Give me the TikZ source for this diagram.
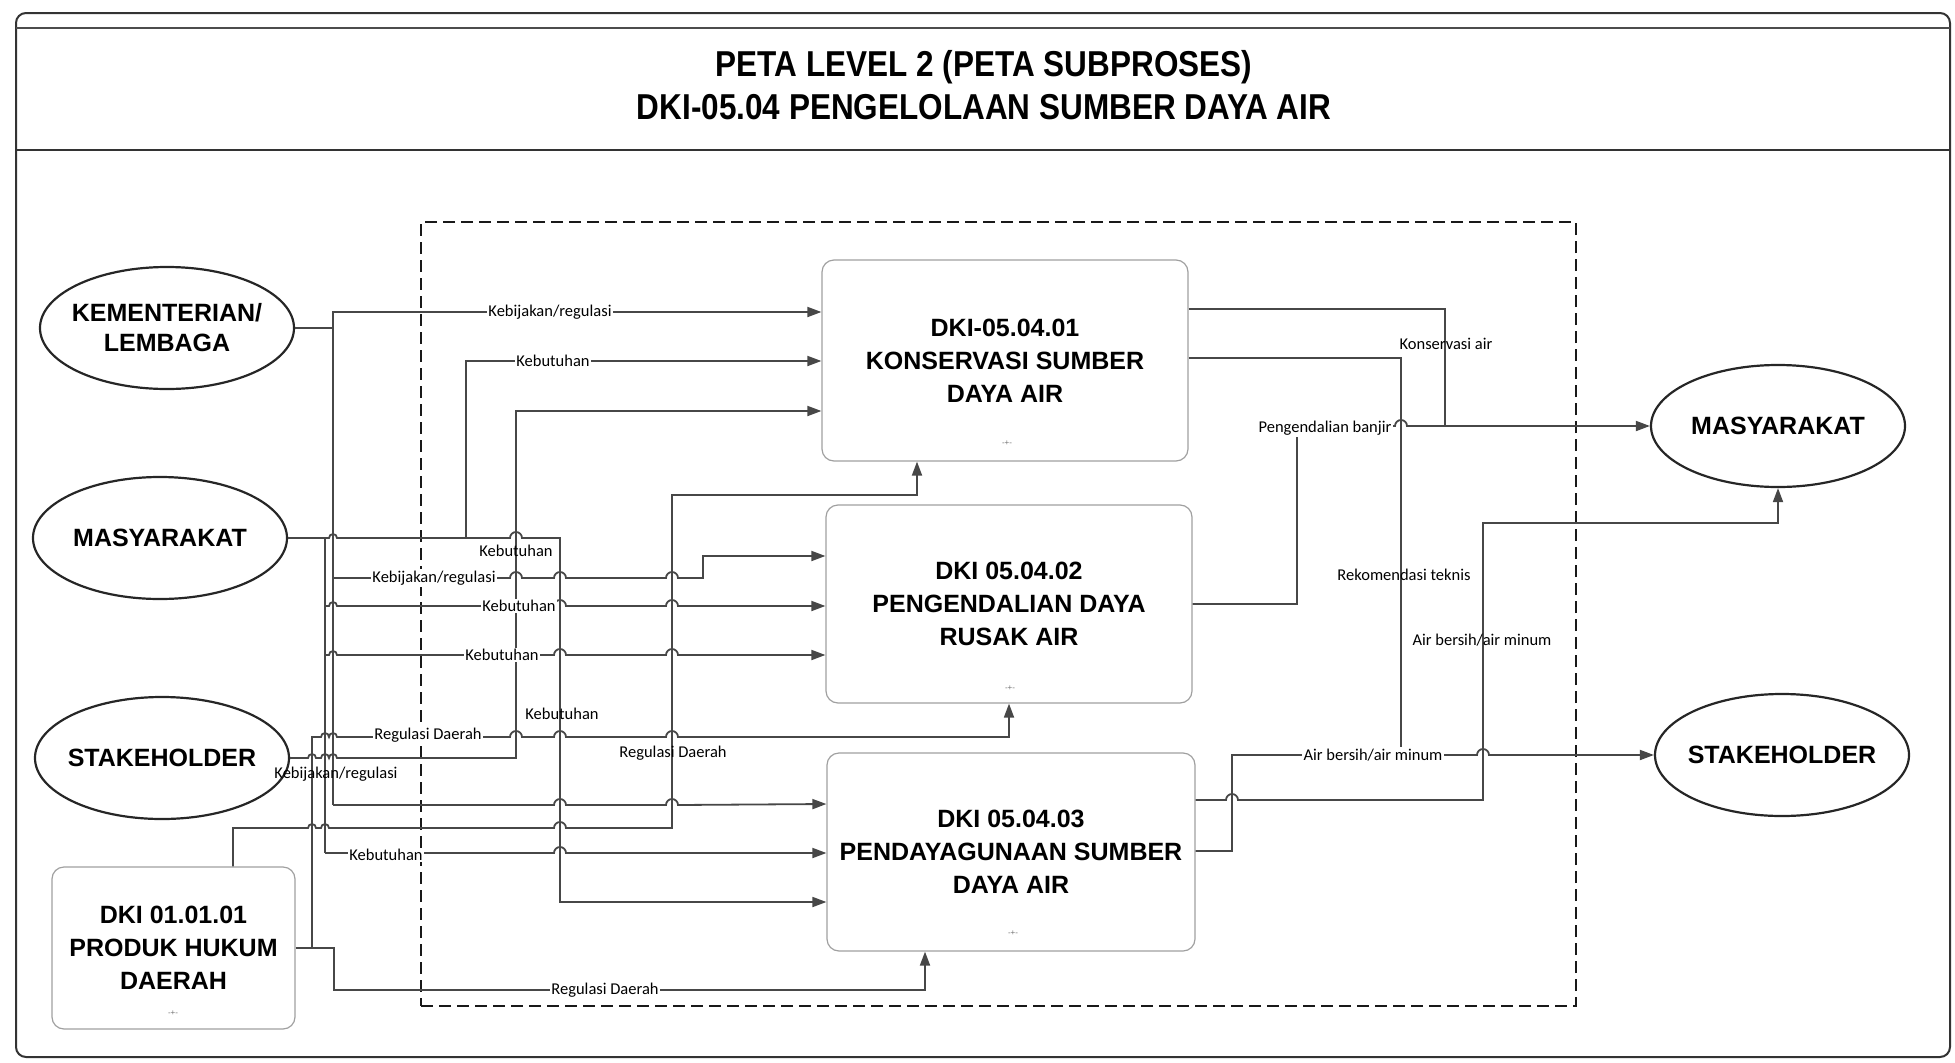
\documentclass[tikz,border=0pt]{standalone}
\usepackage{fontspec}
\usepackage{graphicx}
\setmainfont{Liberation Sans}
\newfontfamily\lblfont{Carlito}
\usetikzlibrary{arrows.meta,shapes.geometric}
\definecolor{ln}{HTML}{474747}
\definecolor{bxc}{HTML}{A0A0A0}
\newcommand\hq[3]{-- ({#1-#3},#2) arc[start angle=180,end angle=360,radius=#3]}
\begin{document}
\begin{tikzpicture}[x=1pt,y=-1pt,
  conn/.style={draw=ln,line width=1.8pt},
  arr/.style={conn,-{Triangle[length=14pt,width=10pt]}},
  ell/.style={ellipse,draw=black!85,line width=2.2pt,minimum width=254pt,minimum height=122pt,inner sep=-25pt,align=center,font=\bfseries\fontsize{25}{30}\selectfont},
  proc/.style={rectangle,rounded corners=12pt,draw=bxc,line width=1.2pt,align=center,inner sep=0pt,font=\bfseries\fontsize{25}{33}\selectfont},
  lbh/.style={font=\lblfont\fontsize{16.5}{18}\selectfont,fill=white,inner sep=1.5pt},
  lbv/.style={font=\lblfont\fontsize{16.5}{18}\selectfont,inner sep=1.5pt},
  mk/.style={font=\fontsize{8}{8}\selectfont,text=black!55,inner sep=0pt},
  ttl/.style={inner sep=0pt}
]
\useasboundingbox (0,0) rectangle (1955,1063);

% frame
\draw[black!80,line width=2pt,rounded corners=10pt] (16,13) rectangle (1950,1057);
\draw[black!70,line width=1.5pt] (16,28) -- (1950,28);
\draw[black!80,line width=2pt] (16,150) -- (1950,150);
\node[ttl] (t1) at (984,67) {\scalebox{0.875}[1]{\bfseries\fontsize{36}{36}\selectfont PETA LEVEL 2 (PETA SUBPROSES)}};
\node[ttl] (t2) at (984,107) {\scalebox{0.875}[1]{\bfseries\fontsize{36}{36}\selectfont DKI-05.04 PENGELOLAAN SUMBER DAYA AIR}};

% scope box
\node[draw=black!90,line width=1.5pt,dash pattern=on 12pt off 6pt,minimum width=1155pt,minimum height=784pt,inner sep=0pt] (scopebox) at (998.5,614) {};

% entities
\node[ell] (kem) at (167,328) {KEMENTERIAN/\\LEMBAGA};
\node[ell] (masL) at (160,538) {MASYARAKAT};
\node[ell] (stkL) at (162,758) {STAKEHOLDER};
\node[ell] (masR) at (1778,426) {MASYARAKAT};
\node[ell] (stkR) at (1782,755) {STAKEHOLDER};

% processes
\node[proc,minimum width=366pt,minimum height=201pt] (b1) at (1005,360.5) {DKI-05.04.01\\KONSERVASI SUMBER\\DAYA AIR};
\node[proc,minimum width=366pt,minimum height=198pt] (b2) at (1009,604) {DKI 05.04.02\\PENGENDALIAN DAYA\\RUSAK AIR};
\node[proc,minimum width=368pt,minimum height=198pt] (b3) at (1011,852) {DKI 05.04.03\\PENDAYAGUNAAN SUMBER\\DAYA AIR};
\node[proc,minimum width=243pt,minimum height=162pt] (prod) at (173.5,948) {DKI 01.01.01\\PRODUK HUKUM\\DAERAH};
\node[mk] (m1) at (1007,443) {-+-};
\node[mk] (m2) at (1010,688) {-+-};
\node[mk] (m3) at (1013,933) {-+-};
\node[mk] (m4) at (173,1013) {-+-};

% KEMENTERIAN
\draw[arr] (kem.east) -- (333,328) -- (333,312) -- (b1.west |- 0,312);
\draw[conn] (333,328) -- (333,805);
\draw[arr] (333,578) \hq{516}{578}{6} \hq{560}{578}{6} \hq{672}{578}{6} -- (703,578) -- (703,556) -- (b2.west |- 0,556);
\draw[arr] (333,805) \hq{560}{805}{6} \hq{672}{805}{6} -- (b3.west |- 0,804);

% MASYARAKAT
\draw[arr] (masL.east) \hq{333}{538}{4} \hq{516}{538}{6} -- (560,538) -- (560,902) -- (b3.west |- 0,902);
\draw[arr] (466,538) -- (466,361) -- (b1.west |- 0,361);
\draw[conn] (325,538) -- (325,853);
\draw[arr] (325,606) \hq{333}{606}{4} \hq{516}{606}{6} \hq{560}{606}{6} \hq{672}{606}{6} -- (b2.west |- 0,606);
\draw[arr] (325,655) \hq{333}{655}{4} \hq{516}{655}{6} \hq{560}{655}{6} \hq{672}{655}{6} -- (b2.west |- 0,655);
\draw[arr] (325,853) \hq{560}{853}{6} -- (b3.west |- 0,853);

% STAKEHOLDER
\draw[arr] (stkL.east) \hq{312}{758}{4} \hq{325}{758}{4} \hq{333}{758}{4} -- (516,758) -- (516,411) -- (b1.west |- 0,411);

% PRODUK HUKUM
\draw[arr] (prod.east) -- (334,948) -- (334,990) -- (925,990) -- (b3.south -| 925,0);
\draw[arr] (312,948) -- (312,737) \hq{325}{737}{4} \hq{333}{737}{4} \hq{516}{737}{6} \hq{560}{737}{6} \hq{672}{737}{6} -- (b2.south |- 0,737) -- (b2.south);
\draw[arr] (prod.north -| 233,0) -- (233,828) \hq{312}{828}{4} \hq{325}{828}{4} \hq{560}{828}{6} -- (672,828) -- (672,495) -- (917,495) -- (b1.south -| 917,0);

% outputs
\draw[conn] (b1.east |- 0,309) -- (1445,309) -- (1445,426);
\draw[arr] (b2.east) -- (1297,604) -- (1297,426) \hq{1401}{426}{6} -- (masR.west);
\draw[conn] (b1.east |- 0,358) -- (1401,358) -- (1401,755);
\draw[arr] (b3.east |- 0,800) \hq{1232}{800}{6} -- (1483,800) -- (1483,523) -- (masR.south |- 0,523) -- (masR.south);
\draw[arr] (b3.east |- 0,851) -- (1232,851) -- (1232,755) \hq{1483}{755}{6} -- (stkR.west);

% labels
\node[lbh] (l1) at (550,312) {Kebijakan/regulasi};
\node[lbh] (l2) at (553,361) {Kebutuhan};
\node[lbv] (l3) at (516,551) {Kebutuhan};
\node[lbh] (l4) at (434,578) {Kebijakan/regulasi};
\node[lbh] (l5) at (519,606) {Kebutuhan};
\node[lbh] (l6) at (502,655) {Kebutuhan};
\node[lbv] (l7) at (562,714) {Kebutuhan};
\node[lbh] (l8) at (428,735) {Regulasi Daerah};
\node[lbv] (l9) at (673,753) {Regulasi Daerah};
\node[lbv] (l10) at (336,774) {Kebijakan/regulasi};
\node[lbh] (l11) at (386,855) {Kebutuhan};
\node[lbh] (l12) at (605,990) {Regulasi Daerah};
\node[lbv] (l13) at (1446,344) {Konservasi air};
\node[lbh] (l14) at (1325,428) {Pengendalian banjir};
\node[lbv] (l15) at (1404,575) {Rekomendasi teknis};
\node[lbv] (l16) at (1482,640) {Air bersih/air minum};
\node[lbh] (l17) at (1373,755) {Air bersih/air minum};
\end{tikzpicture}
\end{document}
